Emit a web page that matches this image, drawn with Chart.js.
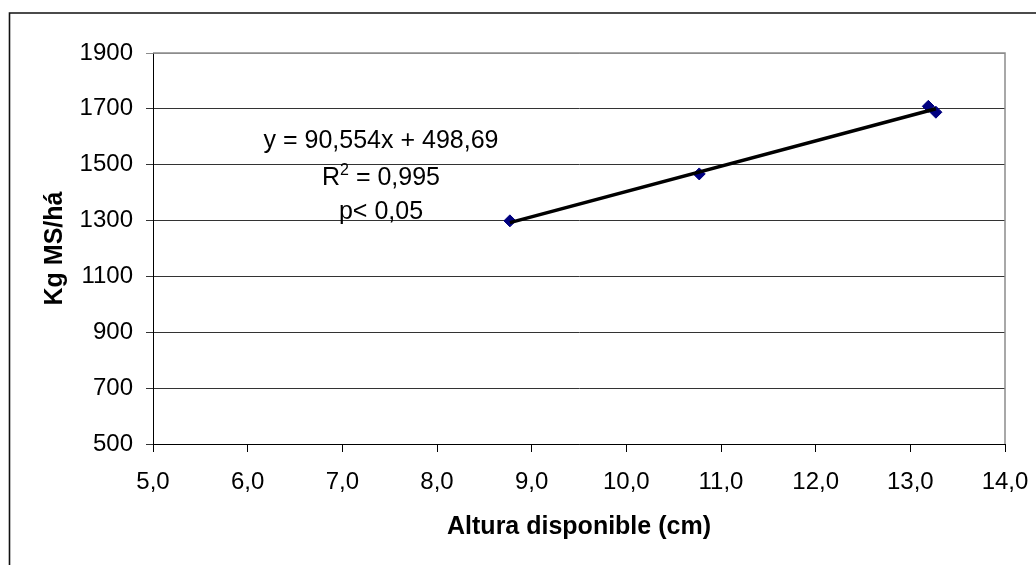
<!DOCTYPE html>
<html>
<head>
<meta charset="utf-8">
<script src="https://cdn.jsdelivr.net/npm/chart.js@4"></script>
<style>
  html, body { margin: 0; padding: 0; background: #fff; }
  #wrap { position: absolute; left: 0; top: 0; width: 1036px; height: 565px; }
</style>
</head>
<body>
<div id="wrap"><canvas id="c" width="1036" height="565"></canvas></div>
<script>
// ---- data ----
const alturaCm = [8.77, 10.77, 13.19, 13.27];
const kgMsHa = [1299, 1467, 1709, 1688];
const xTickValues = [5, 6, 7, 8, 9, 10, 11, 12, 13, 14];
const yTickValues = [500, 700, 900, 1100, 1300, 1500, 1700, 1900];
const trendSlope = 90.554;
const trendIntercept = 498.69;
const eqText = 'y = 90,554x + 498,69';
const r2Value = '0,995';
const pText = 'p< 0,05';
const xTitle = 'Altura disponible (cm)';
const yTitle = 'Kg MS/há';

const FONT = '"Liberation Sans", Arial, sans-serif';

const points = alturaCm.map((x, i) => ({ x: x, y: kgMsHa[i] }));
const xMin = Math.min(...alturaCm), xMax = Math.max(...alturaCm);
const trend = [xMin, xMax].map(x => ({ x: x, y: trendSlope * x + trendIntercept }));

const framePlugin = {
  id: 'frame',
  beforeDraw(chart) {
    const ctx = chart.ctx;
    ctx.save();
    ctx.fillStyle = '#fff';
    ctx.fillRect(0, 0, chart.width, chart.height);
    ctx.strokeStyle = '#111';
    ctx.lineWidth = 1.6;
    ctx.beginPath();
    ctx.moveTo(9.5, chart.height + 2);
    ctx.lineTo(9.5, 13);
    ctx.lineTo(chart.width + 2, 13);
    ctx.stroke();
    ctx.restore();
  },
  afterDatasetsDraw(chart) {
    const ctx = chart.ctx;
    const a = chart.chartArea;
    ctx.save();
    ctx.strokeStyle = '#8c8c8c';
    ctx.lineWidth = 1.5;
    ctx.beginPath();
    ctx.moveTo(a.left, a.top);
    ctx.lineTo(a.right, a.top);
    ctx.lineTo(a.right, a.bottom);
    ctx.stroke();

    // trendline label
    const cx = 381;
    ctx.fillStyle = '#000';
    ctx.textBaseline = 'alphabetic';
    ctx.font = '25px ' + FONT;
    ctx.textAlign = 'center';
    ctx.fillText(eqText, cx, 148);
    ctx.fillText(pText, cx, 219);
    // R^2 line
    const partR = 'R', partEq = ' = ' + r2Value;
    ctx.font = '25px ' + FONT;
    const wR = ctx.measureText(partR).width;
    const wEq = ctx.measureText(partEq).width;
    ctx.font = '16px ' + FONT;
    const w2 = ctx.measureText('2').width;
    const total = wR + w2 + wEq;
    let x0 = cx - total / 2;
    ctx.textAlign = 'left';
    ctx.font = '25px ' + FONT;
    ctx.fillText(partR, x0, 185);
    ctx.font = '16px ' + FONT;
    ctx.fillText('2', x0 + wR, 175);
    ctx.font = '25px ' + FONT;
    ctx.fillText(partEq, x0 + wR + w2, 185);
    ctx.restore();
  }
};

new Chart(document.getElementById('c'), {
  type: 'scatter',
  data: {
    datasets: [
      {
        label: 'Tendencia',
        type: 'line',
        data: trend,
        borderColor: '#000',
        borderWidth: 3.5,
        pointRadius: 0,
        fill: false,
        tension: 0,
        order: 0
      },
      {
        label: 'Kg MS/há',
        data: points,
        backgroundColor: '#000080',
        borderColor: '#000080',
        borderWidth: 1,
        pointStyle: 'rectRot',
        pointRadius: 6,
        pointHoverRadius: 6,
        order: 1
      }
    ]
  },
  options: {
    responsive: false,
    animation: false,
    devicePixelRatio: 1,
    layout: { padding: { top: 53, right: 31, left: 0, bottom: 0 } },
    plugins: {
      legend: { display: false },
      tooltip: { enabled: false }
    },
    scales: {
      x: {
        type: 'linear',
        min: 5,
        max: 14,
        afterBuildTicks(scale) { scale.ticks = xTickValues.map(v => ({ value: v })); },
        afterFit(scale) { scale.height = 121; scale.paddingLeft = 0; scale.paddingRight = 0; },
        ticks: {
          color: '#000',
          font: { family: FONT, size: 24 },
          padding: 16,
          callback: v => Number(v).toFixed(1).replace('.', ',')
        },
        grid: {
          drawOnChartArea: false,
          drawTicks: true,
          tickLength: 8,
          color: '#000',
          lineWidth: 1
        },
        border: { display: true, color: '#000', width: 1 },
        title: {
          display: true,
          text: xTitle,
          color: '#000',
          font: { family: FONT, size: 25, weight: 'bold' },
          padding: { top: 0, bottom: 23 }
        }
      },
      y: {
        type: 'linear',
        min: 500,
        max: 1900,
        afterBuildTicks(scale) { scale.ticks = yTickValues.map(v => ({ value: v })); },
        afterFit(scale) { scale.width = 153; scale.paddingTop = 0; scale.paddingBottom = 0; },
        ticks: {
          color: '#000',
          font: { family: FONT, size: 24 },
          padding: 13,
          callback: v => String(v)
        },
        grid: {
          drawOnChartArea: true,
          drawTicks: true,
          tickLength: 7,
          color: ctx => (ctx.tick && ctx.tick.value === 1900) ? '#8c8c8c' : '#333',
          lineWidth: 1
        },
        border: { display: true, color: '#000', width: 1 },
        title: {
          display: true,
          text: yTitle,
          color: '#000',
          font: { family: FONT, size: 25, weight: 'bold' },
          padding: { top: 40, bottom: 0 }
        }
      }
    }
  },
  plugins: [framePlugin]
});
</script>
</body>
</html>
